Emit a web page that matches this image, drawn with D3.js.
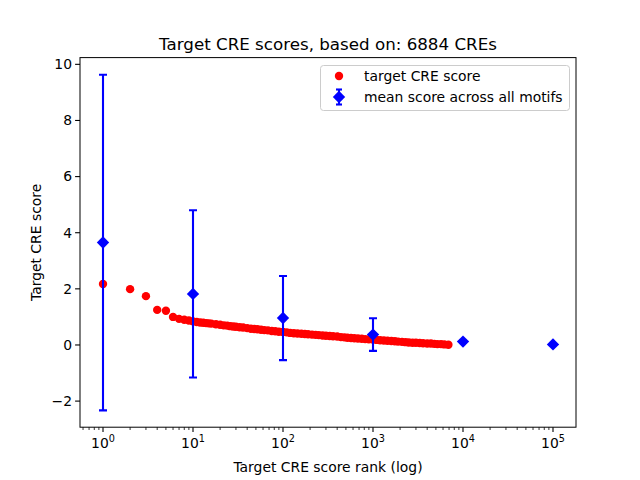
<!DOCTYPE html>
<html><head><meta charset="utf-8">
<script src="https://cdn.jsdelivr.net/npm/d3@7"></script>
<style>body{margin:0;background:#fff}svg text{font-family:"DejaVu Sans",sans-serif;fill:#000}</style>
</head><body><svg id="c" width="640" height="480"></svg>
<script>
const titleText = "Target CRE scores, based on: 6884 CREs";
const xLabel = "Target CRE score rank (log)";
const yLabel = "Target CRE score";
const legendLabels = ["target CRE score", "mean score across all motifs"];

// red series: rank and target CRE score
const creRanks = [1,2,3,4,5,6,7,8,9,10,11,12,13,14,15,16,18,20,22,24,26,28,30,33,36,40,44,48,52,57,62,68,75,82,90,100,110,120,132,145,160,175,190,210,230,250,275,300,330,360,400,440,480,520,570,620,680,750,820,900,1000,1100,1200,1320,1450,1600,1750,1900,2100,2300,2500,2750,3000,3300,3600,4000,4400,4800,5200,5700,6200,6884];
const creScores = [2.17,1.99,1.74,1.25,1.22,1.00,0.93,0.90,0.87,0.84,0.82,0.80,0.79,0.78,0.77,0.76,0.74,0.72,0.70,0.69,0.67,0.66,0.65,0.63,0.62,0.60,0.58,0.57,0.56,0.54,0.53,0.52,0.50,0.49,0.47,0.46,0.45,0.43,0.42,0.41,0.40,0.39,0.38,0.37,0.36,0.35,0.34,0.33,0.32,0.31,0.30,0.28,0.27,0.26,0.25,0.24,0.23,0.22,0.21,0.20,0.19,0.18,0.17,0.16,0.15,0.14,0.13,0.12,0.11,0.10,0.09,0.08,0.08,0.07,0.06,0.05,0.05,0.04,0.03,0.03,0.02,0.01];

// blue series: mean score with error bars
const meanRanks = [1,10,100,1000,10000,100000];
const meanScores = [3.65,1.82,0.96,0.37,0.12,0.02];
const meanErr = [5.98,2.98,1.50,0.58,0.03,0.0];

const yTicks = [-2,0,2,4,6,8,10];
const xTicks = [1,10,100,1000,10000,100000];

const svg = d3.select("#c");
const L=80,R=576,T=57.6,B=427.2;
const x = d3.scaleLog().domain([Math.pow(10,-0.2556),Math.pow(10,5.2556)]).range([L,R]);
const y = d3.scaleLinear().domain([-2.93,10.24]).range([B,T]);

// title
svg.append("text").attr("x",(L+R)/2).attr("y",50).attr("text-anchor","middle").attr("font-size","16.7px").text(titleText);

// clip
svg.append("clipPath").attr("id","clip").append("rect").attr("x",L).attr("y",T).attr("width",R-L).attr("height",B-T);
const g = svg.append("g").attr("clip-path","url(#clip)");

// red points
g.selectAll("circle.cre").data(creRanks.map((r,i)=>[r,creScores[i]])).enter().append("circle")
 .attr("class","cre").attr("cx",d=>x(d[0])).attr("cy",d=>y(d[1])).attr("r",4.2).attr("fill","#ff0000");

// error bars
const blue="#0000ff";
const md = meanRanks.map((r,i)=>({r, m:meanScores[i], e:meanErr[i]}));
md.forEach(d=>{
  if(d.e<=0) return;
  const cx=x(d.r);
  g.append("line").attr("x1",cx).attr("x2",cx).attr("y1",y(d.m-d.e)).attr("y2",y(d.m+d.e)).attr("stroke",blue).attr("stroke-width",2.1);
  [d.m-d.e,d.m+d.e].forEach(v=>{
    g.append("line").attr("x1",cx-4).attr("x2",cx+4).attr("y1",y(v)).attr("y2",y(v)).attr("stroke",blue).attr("stroke-width",2.1);
  });
});
const dia = s=>`M0,${-s}L${s},0L0,${s}L${-s},0Z`;
g.selectAll("path.mean").data(md).enter().append("path").attr("class","mean")
 .attr("d",dia(6.2)).attr("transform",d=>`translate(${x(d.r)},${y(d.m)})`).attr("fill",blue);

// axes frame
svg.append("rect").attr("x",L).attr("y",T).attr("width",R-L).attr("height",B-T).attr("fill","none").attr("stroke","#000").attr("stroke-width",1);

// x ticks
const minor=[];
for(let e=-1;e<=5;e++) for(let k=2;k<=9;k++){const v=k*Math.pow(10,e); if(x(v)>=L&&x(v)<=R) minor.push(v);}
svg.selectAll("line.xmin").data(minor).enter().append("line").attr("x1",d=>x(d)).attr("x2",d=>x(d)).attr("y1",B).attr("y2",B+2.8).attr("stroke","#000").attr("stroke-width",0.8);
svg.selectAll("line.xmaj").data(xTicks).enter().append("line").attr("x1",d=>x(d)).attr("x2",d=>x(d)).attr("y1",B).attr("y2",B+4.9).attr("stroke","#000").attr("stroke-width",1.1);
xTicks.forEach(v=>{
  const t=svg.append("text").attr("x",x(v)).attr("y",448).attr("text-anchor","middle").attr("font-size","13.9px");
  t.append("tspan").text("10");
  t.append("tspan").attr("dy",-6).attr("font-size","9.7px").text(String(Math.round(Math.log10(v))));
});
// y ticks
svg.selectAll("line.ymaj").data(yTicks).enter().append("line").attr("x1",L-4.9).attr("x2",L).attr("y1",d=>y(d)).attr("y2",d=>y(d)).attr("stroke","#000").attr("stroke-width",1.1);
svg.selectAll("text.yl").data(yTicks).enter().append("text").attr("x",L-8).attr("y",d=>y(d)).attr("dy","0.35em").attr("text-anchor","end").attr("font-size","13.9px").text(d=>d<0?"\u2212"+Math.abs(d):String(d));

// axis labels
svg.append("text").attr("x",(L+R)/2).attr("y",472).attr("text-anchor","middle").attr("font-size","13.9px").text(xLabel);
svg.append("text").attr("transform",`translate(41,${(T+B)/2}) rotate(-90)`).attr("text-anchor","middle").attr("font-size","13.9px").text(yLabel);

// legend
const lg=svg.append("g");
lg.append("rect").attr("x",320.5).attr("y",65.5).attr("width",249).attr("height",45).attr("rx",3).attr("fill","#fff").attr("fill-opacity",0.8).attr("stroke","#cccccc").attr("stroke-width",1);
lg.append("circle").attr("cx",339).attr("cy",76).attr("r",4.2).attr("fill","#ff0000");
lg.append("line").attr("x1",339).attr("x2",339).attr("y1",89.5).attr("y2",104.5).attr("stroke",blue).attr("stroke-width",2.1);
[89.5,104.5].forEach(v=>lg.append("line").attr("x1",336).attr("x2",342).attr("y1",v).attr("y2",v).attr("stroke",blue).attr("stroke-width",2.1));
lg.append("path").attr("d",dia(6.2)).attr("transform","translate(339,97)").attr("fill",blue);
legendLabels.forEach((s,i)=>lg.append("text").attr("x",364).attr("y",76+i*21).attr("dy","0.35em").attr("font-size","13.9px").text(s));
</script></body></html>
